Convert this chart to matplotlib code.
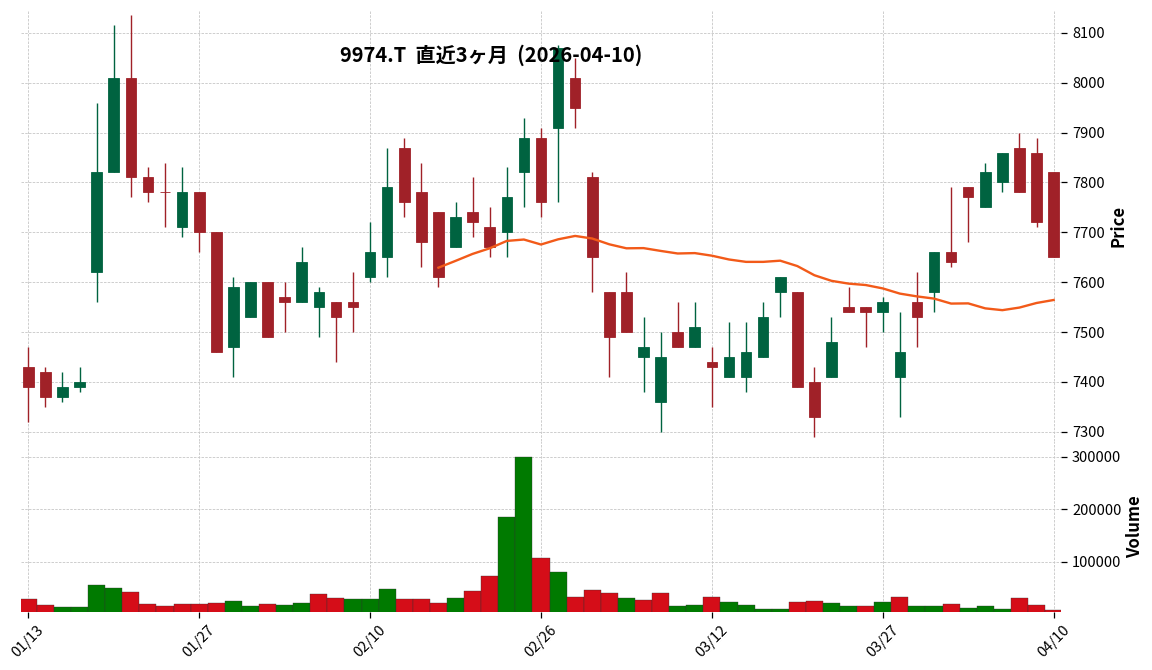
import matplotlib
matplotlib.use("Agg")
import matplotlib.pyplot as plt
import numpy as np
import pandas as pd

plt.rcParams["font.family"] = ["Noto Sans CJK JP", "DejaVu Sans"]

TITLE = "9974.T  直近3ヶ月  (2026-04-10)"

# trading days (TSE), holidays removed
HOLIDAYS = ["2026-02-11", "2026-02-23", "2026-03-20"]
dates = pd.bdate_range("2026-01-13", "2026-04-10")
dates = dates[~dates.isin(pd.to_datetime(HOLIDAYS))]

opens = [7430, 7420, 7370, 7390, 7620, 7820, 8010, 7810, 7780, 7710,
         7780, 7700, 7470, 7530, 7600, 7570, 7560, 7550, 7560, 7560,
         7610, 7650, 7870, 7780, 7740, 7670, 7740, 7710, 7700, 7820,
         7890, 7910, 8010, 7810, 7580, 7580, 7450, 7360, 7500, 7470,
         7440, 7410, 7410, 7450, 7580, 7580, 7400, 7410, 7550, 7550,
         7540, 7410, 7560, 7580, 7660, 7790, 7750, 7800, 7870, 7860,
         7820]
highs = [7470, 7430, 7420, 7430, 7960, 8115, 8135, 7830, 7840, 7830,
         7780, 7700, 7610, 7600, 7600, 7600, 7670, 7590, 7560, 7620,
         7720, 7870, 7890, 7840, 7740, 7760, 7810, 7750, 7830, 7930,
         7910, 8075, 8050, 7820, 7580, 7620, 7530, 7500, 7560, 7560,
         7470, 7520, 7520, 7560, 7610, 7580, 7430, 7530, 7590, 7550,
         7570, 7540, 7620, 7660, 7790, 7790, 7840, 7860, 7900, 7890,
         7820]
lows = [7320, 7350, 7360, 7380, 7560, 7820, 7770, 7760, 7710, 7690,
        7660, 7460, 7410, 7530, 7490, 7500, 7560, 7490, 7440, 7500,
        7600, 7610, 7730, 7630, 7590, 7670, 7690, 7650, 7650, 7750,
        7730, 7760, 7910, 7580, 7410, 7500, 7380, 7300, 7470, 7470,
        7350, 7410, 7380, 7450, 7530, 7390, 7290, 7410, 7540, 7470,
        7500, 7330, 7470, 7540, 7630, 7680, 7750, 7780, 7780, 7710,
        7650]
closes = [7390, 7370, 7390, 7400, 7820, 8010, 7810, 7780, 7780, 7780,
          7700, 7460, 7590, 7600, 7490, 7560, 7640, 7580, 7530, 7550,
          7660, 7790, 7760, 7680, 7610, 7730, 7720, 7670, 7770, 7890,
          7760, 8070, 7950, 7650, 7490, 7500, 7470, 7450, 7470, 7510,
          7430, 7450, 7460, 7530, 7610, 7390, 7330, 7480, 7540, 7540,
          7560, 7460, 7530, 7660, 7640, 7770, 7820, 7860, 7780, 7720,
          7650]
volumes = [28000, 17000, 13000, 13000, 55000, 49000, 41500, 18700, 14900, 18700,
           18700, 20600, 24500, 14900, 18700, 16800, 20600, 37800, 30200, 28300,
           28300, 47300, 28300, 28300, 20600, 30200, 43500, 72000, 184000, 300000,
           106000, 79700, 32100, 45400, 39700, 30200, 26400, 39700, 14900, 16800,
           32100, 22600, 16800, 9200, 9200, 22600, 24500, 20600, 14900, 14900,
           22600, 32100, 14900, 14900, 18700, 11100, 14900, 9200, 30200, 16800,
           7300]
MAV = 25

UP, DOWN = "#006340", "#a02128"
VUP, VDOWN = "#007a00", "#d50d18"
GRID = "#c6c6c6"

df = pd.DataFrame({"Open": opens, "High": highs, "Low": lows,
                   "Close": closes, "Volume": volumes}, index=dates)
mav = df["Close"].rolling(MAV).mean()
x = np.arange(len(df))

fig = plt.figure(figsize=(11.52, 6.70), dpi=100)
ax = fig.add_axes([0.0182, 0.342, 0.9028, 0.6418])
axv = fig.add_axes([0.0182, 0.0866, 0.9028, 0.2554], sharex=ax)

for a in (ax, axv):
    for s in a.spines.values():
        s.set_visible(False)
    a.set_axisbelow(True)

# candles
up = df["Close"] > df["Open"]
ccol = np.where(up, UP, DOWN)
ax.vlines(x, df["Low"], df["High"], colors=ccol, linewidth=1.0, zorder=2)
ax.bar(x, (df["Close"] - df["Open"]).abs(), bottom=df[["Open", "Close"]].min(axis=1),
       width=0.62, color=ccol, edgecolor=ccol, linewidth=0.6, zorder=3)
ax.plot(x, mav, color="#f25a19", linewidth=1.7, zorder=4)

# volume colored by change vs previous close
prev = df["Close"].shift(1)
vup = (df["Close"] > prev).to_numpy()
vup[0] = closes[0] > opens[0]
vcol = np.where(vup, VUP, VDOWN)
axv.bar(x, df["Volume"], width=1.0, color=vcol, edgecolor="#303030",
        linewidth=0.25, zorder=3)

ax.set_xlim(-0.43, len(df) - 1 + 0.43)
ax.set_ylim(7282, 8144)
axv.set_ylim(4000, 330000)

ticks = list(range(0, len(df), 10))
ax.set_yticks(np.arange(7300, 8101, 100))
axv.set_yticks([100000, 200000, 300000])
for a in (ax, axv):
    a.set_xticks(ticks)
    a.yaxis.tick_right()
    a.yaxis.set_label_position("right")
    a.grid(True, color=GRID, linestyle="--", linewidth=0.6, dashes=(3, 1.5))
    a.tick_params(axis="y", length=4, width=0.9, pad=4, labelsize=10.5)
axv.set_yticklabels(["100000", "200000", "300000"])
ax.tick_params(axis="x", length=0, labelbottom=False)
axv.set_xticklabels([dates[i].strftime("%m/%d") for i in ticks],
                    rotation=45, ha="center")
axv.tick_params(axis="x", length=4, width=0.9, pad=4, labelsize=10.5)

ax.set_ylabel("Price", fontsize=12, fontweight="bold", labelpad=3)
axv.set_ylabel("Volume", fontsize=12, fontweight="bold", labelpad=3)

fig.text(491 / 1152, 1 - 55 / 670, TITLE, ha="center", va="center",
         fontsize=14.5, fontweight="bold")

fig.savefig("out.png", dpi=100)
